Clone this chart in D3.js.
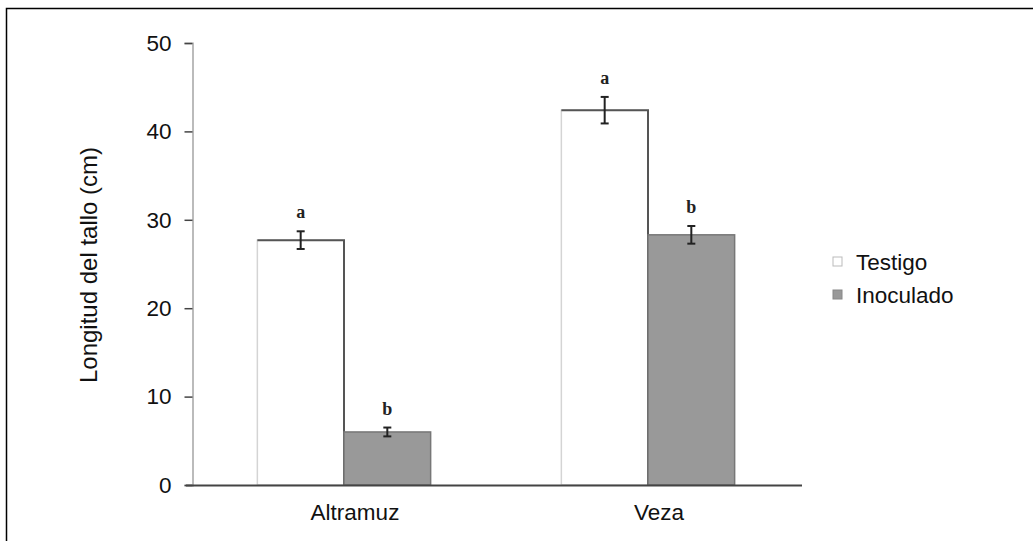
<!DOCTYPE html>
<html lang="es">
<head>
	<meta charset="UTF-8">
	<title>Longitud del tallo</title>
	<script src="https://d3js.org/d3.v7.min.js"></script>
	<style>
		body{
			margin: 0;
			background: #fff;
			font-family: "Liberation Sans", Arial, Helvetica, sans-serif;
		}
	</style>
</head>
<body>
	<div id="chart"></div>
	<script>
		// data
		var categories = ['Altramuz', 'Veza'];
		var series = ['Testigo', 'Inoculado'];
		var testigo = [27.7, 42.4];
		var inoculado = [6.0, 28.3];
		var testigoErr = [1.0, 1.5];
		var inoculadoErr = [0.5, 1.0];
		var testigoLetters = ['a', 'a'];
		var inoculadoLetters = ['b', 'b'];
		var yTicks = [0, 10, 20, 30, 40, 50];

		var width = 1033;
		var height = 541;

		var svg = d3.select('#chart').append('svg')
			.attr('width', width)
			.attr('height', height);

		// outer frame (runs off the right and bottom edges)
		svg.append('rect')
			.attr('x', 6.5).attr('y', 8.5)
			.attr('width', 1040).attr('height', 545)
			.attr('fill', 'none')
			.attr('stroke', '#000')
			.attr('stroke-width', 1.5);

		var yScale = d3.scaleLinear().domain([0, 50]).range([485, 43]);
		var xScale = d3.scaleBand().domain(categories).range([192, 800])
			.paddingInner(0.43).paddingOuter(0.215);
		var xSub = d3.scaleBand().domain(series).range([0, xScale.bandwidth()]);

		var rows = categories.map(function(c, i){
			return [
				{cat: c, s: 'Testigo', v: testigo[i], e: testigoErr[i], l: testigoLetters[i]},
				{cat: c, s: 'Inoculado', v: inoculado[i], e: inoculadoErr[i], l: inoculadoLetters[i]}
			];
		});
		var bars = [].concat.apply([], rows);

		// y axis
		var yAxis = d3.axisLeft(yScale).tickValues(yTicks).tickSize(8).tickPadding(13);
		var yg = svg.append('g')
			.attr('transform', 'translate(192.5,0)')
			.call(yAxis);
		yg.select('.domain').attr('stroke', '#bbb').attr('stroke-width', 2);
		yg.selectAll('.tick line').attr('stroke', '#444').attr('stroke-width', 1.5);
		yg.selectAll('.tick text')
			.attr('font-family', '"Liberation Sans", Arial, sans-serif')
			.attr('font-size', 22.5)
			.attr('fill', '#111');

		// bars
		var barG = svg.append('g');
		bars.forEach(function(d){
			var x0 = xScale(d.cat) + xSub(d.s);
			var w = xSub.bandwidth();
			var y0 = yScale(d.v);
			var h = yScale(0) - y0;
			if(d.s === 'Testigo'){
				barG.append('rect')
					.attr('x', x0).attr('y', y0)
					.attr('width', w).attr('height', h)
					.attr('fill', '#fff')
					.attr('stroke', '#d4d4d4')
					.attr('stroke-width', 1.5);
				barG.append('path')
					.attr('d', 'M' + x0 + ',' + y0 + 'H' + (x0 + w) + 'V' + yScale(0))
					.attr('fill', 'none')
					.attr('stroke', '#555')
					.attr('stroke-width', 2);
			}else{
				barG.append('rect')
					.attr('x', x0).attr('y', y0)
					.attr('width', w).attr('height', h)
					.attr('fill', '#999')
					.attr('stroke', '#777')
					.attr('stroke-width', 1.5);
			}
		});

		// error bars and letters
		bars.forEach(function(d){
			var cx = xScale(d.cat) + xSub(d.s) + xSub.bandwidth() / 2;
			var yt = yScale(d.v + d.e);
			var yb = yScale(d.v - d.e);
			barG.append('line')
				.attr('x1', cx).attr('x2', cx).attr('y1', yt).attr('y2', yb)
				.attr('stroke', '#222').attr('stroke-width', 2);
			[yt, yb].forEach(function(yy){
				barG.append('line')
					.attr('x1', cx - 4).attr('x2', cx + 4).attr('y1', yy).attr('y2', yy)
					.attr('stroke', '#222').attr('stroke-width', 2);
			});
			barG.append('text')
				.attr('x', cx).attr('y', yt - 13)
				.attr('text-anchor', 'middle')
				.attr('font-family', '"Liberation Serif", "DejaVu Serif", serif')
				.attr('font-weight', 'bold')
				.attr('font-size', 18)
				.attr('fill', '#222')
				.text(d.l);
		});

		// x axis
		svg.append('line')
			.attr('x1', 186).attr('x2', 802)
			.attr('y1', yScale(0) + 0.5).attr('y2', yScale(0) + 0.5)
			.attr('stroke', '#444').attr('stroke-width', 2);
		svg.selectAll('.cat-label')
			.data(categories)
			.enter()
			.append('text')
			.attr('class', 'cat-label')
			.attr('x', function(d){ return xScale(d) + xScale.bandwidth() / 2 + 11; })
			.attr('y', 520)
			.attr('text-anchor', 'middle')
			.attr('font-size', 22.5)
			.attr('fill', '#111')
			.text(function(d){ return d; });

		// y title
		svg.append('text')
			.attr('transform', 'translate(97,265) rotate(-90)')
			.attr('text-anchor', 'middle')
			.attr('font-size', 24)
			.attr('fill', '#111')
			.text('Longitud del tallo (cm)');

		// legend
		var legend = svg.append('g').attr('transform', 'translate(833,262)');
		series.forEach(function(s, i){
			var g = legend.append('g').attr('transform', 'translate(0,' + (i * 33) + ')');
			g.append('rect')
				.attr('x', 0).attr('y', -5)
				.attr('width', 9).attr('height', 9)
				.attr('fill', i === 0 ? '#fff' : '#999')
				.attr('stroke', i === 0 ? '#bbb' : '#888');
			g.append('text')
				.attr('x', 23).attr('y', 8)
				.attr('font-size', 22.5)
				.attr('fill', '#111')
				.text(s);
		});
	</script>
</body>
</html>
